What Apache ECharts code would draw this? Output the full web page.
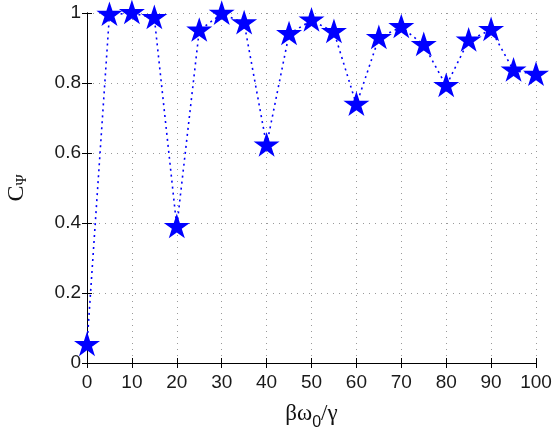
<!DOCTYPE html>
<html>
<head>
<meta charset="utf-8">
<script src="https://cdn.jsdelivr.net/npm/echarts@6/dist/echarts.min.js"></script>
<style>html,body{margin:0;padding:0;background:#fff;}#c{width:553px;height:429px;}</style>
</head>
<body>
<div id="c"></div>
<script>
const xValues = [0, 5, 10, 15, 20, 25, 30, 35, 40, 45, 50, 55, 60, 65, 70, 75, 80, 85, 90, 95, 100];
const cPsi = [0.052, 0.995, 1.0, 0.986, 0.389, 0.950, 0.998, 0.971, 0.622, 0.940, 0.979, 0.946, 0.738, 0.929, 0.960, 0.909, 0.792, 0.922, 0.952, 0.836, 0.824];
const xTicks = [0, 10, 20, 30, 40, 50, 60, 70, 80, 90, 100];
const yTicks = [0, 0.2, 0.4, 0.6, 0.8, 1];

const starPath = (function () {
  const pts = [];
  for (let i = 0; i < 10; i++) {
    const r = i % 2 === 0 ? 1 : 0.382;
    const a = -Math.PI / 2 + i * Math.PI / 5;
    pts.push((r * Math.cos(a)).toFixed(4) + ' ' + (r * Math.sin(a)).toFixed(4));
  }
  return 'path://M' + pts.join(' L') + ' Z';
})();

const chart = echarts.init(document.getElementById('c'));
const axisCommon = {
  type: 'value',
  axisLine: { show: true, lineStyle: { color: '#000', width: 1 } },
  axisTick: { show: true, inside: true, length: 5, lineStyle: { color: '#000' } },
  splitLine: { show: false }
};
chart.setOption({
  animation: false,
  grid: { left: 87, right: 17, top: 13, bottom: 66, containLabel: false, outerBoundsMode: 'none' },
  xAxis: [
    Object.assign({}, axisCommon, {
      position: 'bottom', min: 0, max: 100, interval: 10,
      axisLabel: { color: '#1a1a1a', fontSize: 19, fontFamily: 'Liberation Sans, Arial, sans-serif', margin: 10,
        customValues: xTicks },
      splitLine: { show: true, lineStyle: { color: '#9a9a9a', type: [1, 5], width: 1 } },
      name: '{a|βω}{s|0}{a|/γ}',
      nameLocation: 'middle', nameGap: 34,
      nameTextStyle: {
        rich: {
          a: { fontSize: 23, fontFamily: 'Liberation Serif, Times New Roman, serif', color: '#111' },
          s: { fontSize: 16, fontFamily: 'Liberation Sans, Arial, sans-serif', color: '#111', padding: [18, 0, 0, 0] }
        }
      }
    }),
    Object.assign({}, axisCommon, {
      position: 'top', min: 0, max: 100, interval: 10,
      axisLabel: { show: false }
    })
  ],
  yAxis: [
    Object.assign({}, axisCommon, {
      position: 'left', min: 0, max: 1, interval: 0.2,
      axisLabel: { color: '#1a1a1a', fontSize: 19, fontFamily: 'Liberation Sans, Arial, sans-serif', margin: 6,
        customValues: yTicks },
      splitLine: { show: true, lineStyle: { color: '#9a9a9a', type: [1, 5], width: 1 } },
      name: '{a|C}{s|Ψ}',
      nameLocation: 'middle', nameGap: 57, nameRotate: 90,
      nameTextStyle: {
        rich: {
          a: { fontSize: 24, fontFamily: 'Liberation Serif, Times New Roman, serif', color: '#111' },
          s: { fontSize: 15, fontFamily: 'Liberation Serif, Times New Roman, serif', color: '#111', padding: [12, 0, 0, 0] }
        }
      }
    }),
    Object.assign({}, axisCommon, {
      position: 'right', min: 0, max: 1, interval: 0.2,
      axisLabel: { show: false }
    })
  ],
  series: [{
    type: 'line',
    data: xValues.map((x, i) => [x, cPsi[i]]),
    lineStyle: { color: '#0000ff', width: 1.6, type: [2, 4] },
    itemStyle: { color: '#0000ff' },
    symbol: starPath,
    symbolSize: 26,
    symbolKeepAspect: true,
    symbolOffset: [0, -1],
    showAllSymbol: true,
    clip: false,
    z: 5
  }]
});
</script>
</body>
</html>
